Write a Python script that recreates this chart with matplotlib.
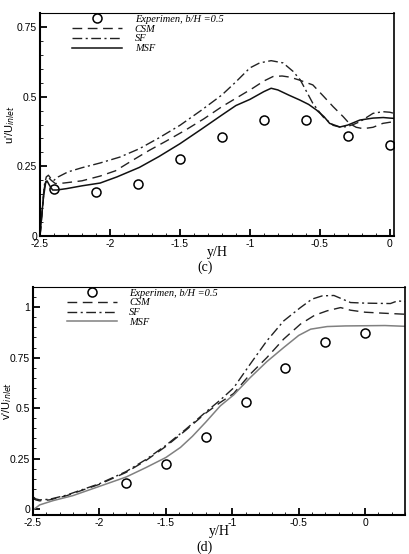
import matplotlib
matplotlib.use('Agg')
import matplotlib.pyplot as plt
from matplotlib.ticker import MultipleLocator, FormatStrFormatter

plt.rcParams['axes.unicode_minus'] = False
plt.rcParams['font.family'] = ['Liberation Sans', 'DejaVu Sans']

# ---- panel (c): u'/U_inlet ----
c_exp_x = [-2.4, -2.1, -1.8, -1.5, -1.2, -0.9, -0.6, -0.3, 0.0]
c_exp_y = [0.17, 0.157, 0.187, 0.275, 0.356, 0.417, 0.417, 0.359, 0.325]

c_csm_x = [-2.5, -2.485, -2.47, -2.455, -2.44, -2.42, -2.39, -2.33, -2.2, -2.07, -1.96, -1.85,
           -1.72, -1.6, -1.46, -1.33, -1.2, -1.08, -0.98, -0.9, -0.835, -0.77, -0.715, -0.65,
           -0.55, -0.475, -0.405, -0.333, -0.29, -0.24, -0.19, -0.12, -0.05, 0.0, 0.03]
c_csm_y = [0.0, 0.08, 0.17, 0.205, 0.21, 0.2, 0.188, 0.19, 0.198, 0.215, 0.234, 0.268,
           0.307, 0.34, 0.38, 0.42, 0.464, 0.5, 0.53, 0.556, 0.572, 0.574, 0.57, 0.56,
           0.542, 0.502, 0.464, 0.428, 0.404, 0.39, 0.385, 0.39, 0.404, 0.408, 0.41]

c_sf_x = [-2.5, -2.485, -2.47, -2.455, -2.44, -2.42, -2.4, -2.37, -2.3, -2.2, -2.07, -1.93,
          -1.79, -1.65, -1.5, -1.35, -1.2, -1.1, -1.0, -0.93, -0.848, -0.763, -0.69, -0.64,
          -0.55, -0.478, -0.405, -0.358, -0.31, -0.26, -0.214, -0.12, -0.05, 0.0, 0.03]
c_sf_y = [0.0, 0.09, 0.18, 0.212, 0.218, 0.205, 0.2, 0.212, 0.23, 0.245, 0.262, 0.283,
          0.313, 0.352, 0.397, 0.45, 0.506, 0.553, 0.603, 0.621, 0.629, 0.621, 0.59, 0.56,
          0.476, 0.428, 0.397, 0.391, 0.392, 0.4, 0.41, 0.44, 0.446, 0.444, 0.44]

c_msf_x = [-2.5, -2.49, -2.475, -2.46, -2.45, -2.43, -2.41, -2.38, -2.31, -2.2, -2.07, -1.95,
           -1.79, -1.65, -1.5, -1.35, -1.2, -1.1, -1.0, -0.9, -0.848, -0.8, -0.72, -0.644,
           -0.58, -0.524, -0.47, -0.43, -0.357, -0.3, -0.214, -0.12, -0.047, 0.0, 0.03]
c_msf_y = [0.0, 0.06, 0.14, 0.19, 0.198, 0.18, 0.165, 0.165, 0.17, 0.18, 0.19, 0.212,
           0.246, 0.285, 0.331, 0.382, 0.434, 0.468, 0.49, 0.518, 0.53, 0.524, 0.505, 0.488,
           0.472, 0.452, 0.428, 0.404, 0.391, 0.398, 0.416, 0.423, 0.425, 0.423, 0.422]

# ---- panel (d): v'/U_inlet ----
d_exp_x = [-1.8, -1.5, -1.2, -0.9, -0.6, -0.3, 0.0]
d_exp_y = [0.13, 0.223, 0.356, 0.528, 0.698, 0.825, 0.87]

d_csm_x = [-2.5, -2.48, -2.45, -2.375, -2.25, -2.124, -2.0, -1.8, -1.65, -1.5, -1.35, -1.2,
           -1.09, -0.99, -0.865, -0.74, -0.613, -0.487, -0.38, -0.286, -0.185, -0.11, 0.0,
           0.142, 0.3]
d_csm_y = [0.06, 0.045, 0.04, 0.045, 0.065, 0.094, 0.122, 0.181, 0.24, 0.31, 0.39, 0.475,
           0.528, 0.572, 0.668, 0.75, 0.842, 0.916, 0.96, 0.982, 0.998, 0.985, 0.975,
           0.97, 0.965]

d_sf_x = [-2.5, -2.48, -2.45, -2.375, -2.25, -2.124, -2.0, -1.8, -1.65, -1.5, -1.35, -1.2,
          -1.09, -0.99, -0.865, -0.74, -0.613, -0.487, -0.4, -0.323, -0.235, -0.11, 0.0,
          0.19, 0.243, 0.3]
d_sf_y = [0.06, 0.05, 0.045, 0.048, 0.068, 0.097, 0.125, 0.185, 0.245, 0.315, 0.395, 0.48,
          0.54, 0.6, 0.718, 0.833, 0.932, 0.998, 1.04, 1.056, 1.058, 1.023, 1.02,
          1.018, 1.031, 1.028]

d_msf_x = [-2.5, -2.45, -2.35, -2.2, -2.0, -1.8, -1.65, -1.5, -1.39, -1.3, -1.2, -1.09,
           -0.99, -0.865, -0.74, -0.613, -0.5, -0.41, -0.286, -0.15, 0.0, 0.15, 0.306]
d_msf_y = [-0.005, 0.02, 0.041, 0.066, 0.112, 0.158, 0.205, 0.255, 0.305, 0.36, 0.43, 0.511,
           0.565, 0.651, 0.73, 0.8, 0.86, 0.891, 0.904, 0.907, 0.908, 0.909, 0.905]

legend_labels = ['Experimen, b/H =0.5', 'CSM', 'SF', 'MSF']


def style_axes(ax, xlim, ylim):
    ax.set_xlim(xlim)
    ax.set_ylim(ylim)
    ax.xaxis.set_major_locator(MultipleLocator(0.5))
    ax.xaxis.set_minor_locator(MultipleLocator(0.1))
    ax.yaxis.set_major_locator(MultipleLocator(0.25))
    ax.yaxis.set_minor_locator(MultipleLocator(0.05))
    ax.xaxis.set_major_formatter(FormatStrFormatter('%g'))
    ax.yaxis.set_major_formatter(FormatStrFormatter('%g'))
    ax.tick_params(which='both', direction='in', top=False, right=False, labelsize=7.5, pad=2)
    ax.tick_params(which='major', length=5, width=1.3)
    ax.tick_params(which='minor', length=2.5, width=0.6)
    ax.spines['left'].set_linewidth(1.5)
    ax.spines['bottom'].set_linewidth(1.5)
    ax.spines['top'].set_linewidth(0.8)
    ax.spines['right'].set_linewidth(1.2)
    ax.set_xlabel('y/H', family='Liberation Serif', fontsize=10, labelpad=-2)


def draw(ax, ex, ey, cx, cy, sx, sy, mx, my, msf_color):
    ax.plot(ex, ey, 'o', mfc='none', mec='black', ms=6.5, mew=1.1, label=legend_labels[0])
    ax.plot(cx, cy, color='#222222', lw=1.0, dashes=(7, 4), label=legend_labels[1])
    ax.plot(sx, sy, color='#222222', lw=1.0, dashes=(7, 2.5, 1.5, 2.5), label=legend_labels[2])
    ax.plot(mx, my, color=msf_color, lw=1.1, label=legend_labels[3])
    leg = ax.legend(loc='upper left', bbox_to_anchor=(0.065, 1.035), frameon=False,
                    handlelength=4.8, handletextpad=1.2, labelspacing=0.05,
                    prop={'family': 'Liberation Serif', 'style': 'italic', 'size': 7.5})
    return leg


fig = plt.figure(figsize=(4.1, 5.54), dpi=100)

ax1 = fig.add_axes([40 / 410, 1 - 236 / 554, 354 / 410, 223 / 554])
draw(ax1, c_exp_x, c_exp_y, c_csm_x, c_csm_y, c_sf_x, c_sf_y, c_msf_x, c_msf_y, '#111111')
style_axes(ax1, (-2.5, 0.03), (0, 0.8))
ax1.set_ylabel("u'/U$_{\\mathit{inlet}}$", fontsize=8)
ax1.yaxis.set_label_coords(-0.066, 0.5)

ax2 = fig.add_axes([33 / 410, 1 - 515 / 554, 372 / 410, 228 / 554])
draw(ax2, d_exp_x, d_exp_y, d_csm_x, d_csm_y, d_sf_x, d_sf_y, d_msf_x, d_msf_y, '#808080')
style_axes(ax2, (-2.5, 0.3), (-0.03, 1.1))
ax2.set_ylabel("v'/U$_{\\mathit{inlet}}$", fontsize=8)
ax2.yaxis.set_label_coords(-0.052, 0.5)

fig.text(0.5, 1 - 267 / 554, '(c)', family='Liberation Serif', fontsize=10,
         ha='center', va='center')
fig.text(0.5, 1 - 547 / 554, '(d)', family='Liberation Serif', fontsize=10,
         ha='center', va='center')

fig.savefig('out.png', dpi=100)
